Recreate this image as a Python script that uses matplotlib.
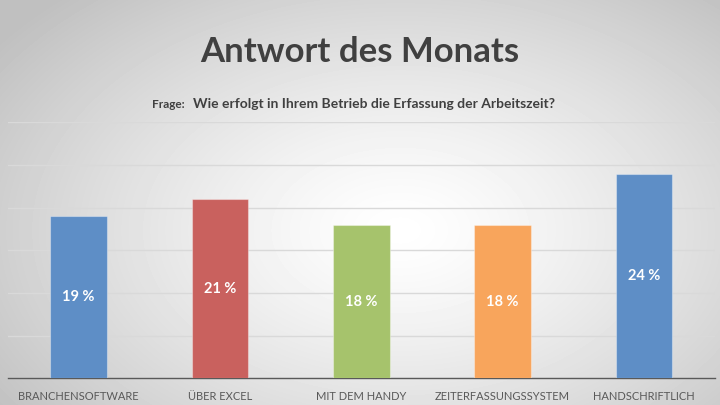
import numpy as np
import matplotlib.pyplot as plt

# Daten
kategorien = ["BRANCHENSOFTWARE", "ÜBER EXCEL", "MIT DEM HANDY",
              "ZEITERFASSUNGSSYSTEM", "HANDSCHRIFTLICH"]
werte = [19, 21, 18, 18, 24]
farben = ["#5e8ec6", "#c9615e", "#a6c36c", "#f8a55c", "#5e8ec6"]
titel = "Antwort des Monats"
frage_label = "Frage:"
frage = "Wie erfolgt in Ihrem Betrieb die Erfassung der Arbeitszeit?"

plt.rcParams['font.family'] = ['Lato', 'DejaVu Sans']

fig = plt.figure(figsize=(7.2, 4.05), dpi=100)

# Hintergrund: radialer Verlauf
bg = fig.add_axes([0, 0, 1, 1], zorder=-1)
yy, xx = np.mgrid[0:405, 0:720]
d = np.sqrt(((xx - 400) / 500.0) ** 2 + ((yy - 230) / 320.0) ** 2)
d = np.clip(d, 0, 1)
grau = 1.0 - 0.25 * d ** 1.3
bg.imshow(grau, cmap='gray', vmin=0, vmax=1, aspect='auto', extent=[0, 1, 0, 1])
bg.axis('off')

ax = fig.add_axes([8 / 720, 1 - 378.3 / 405, (714.7 - 8) / 720, (378.3 - 122.3) / 405])
ax.set_facecolor('none')
x = np.arange(len(kategorien))
balken = ax.bar(x, werte, width=0.4, color=farben, edgecolor=[(1, 1, 1, 0.35)] * 5,
                linewidth=0.8, zorder=3)
for b, w in zip(balken, werte):
    ax.text(b.get_x() + b.get_width() / 2, w / 2, f"{w} %", ha='center', va='center',
            color='white', fontsize=10.5, fontweight='bold', zorder=4)

ax.set_ylim(0, 30)
ax.set_xlim(-0.5, len(kategorien) - 0.5)
ax.set_yticks(np.arange(0, 31, 5))
ax.yaxis.grid(True, color='#d9d9d9', linewidth=1)
ax.set_axisbelow(True)
ax.tick_params(axis='y', left=False, labelleft=False)
ax.tick_params(axis='x', bottom=False, labelsize=8, labelcolor='#595959', pad=6)
ax.set_xticks(x)
ax.set_xticklabels(kategorien)
for s in ['left', 'right', 'top']:
    ax.spines[s].set_visible(False)
ax.spines['bottom'].set_color('#595959')
ax.spines['bottom'].set_linewidth(1)

fig.text(0.499, 1 - 61.7 / 405, titel, ha='center', va='baseline', fontsize=25,
         fontweight='bold', color='#404040')
fig.text(151.7 / 720, 1 - 108 / 405, frage_label, ha='left', va='baseline', fontsize=8.5,
         fontweight='bold', color='#404040')
fig.text(193.3 / 720, 1 - 108 / 405, frage, ha='left', va='baseline', fontsize=10,
         fontweight='bold', color='#404040')

fig.savefig('out.png', dpi=100)
